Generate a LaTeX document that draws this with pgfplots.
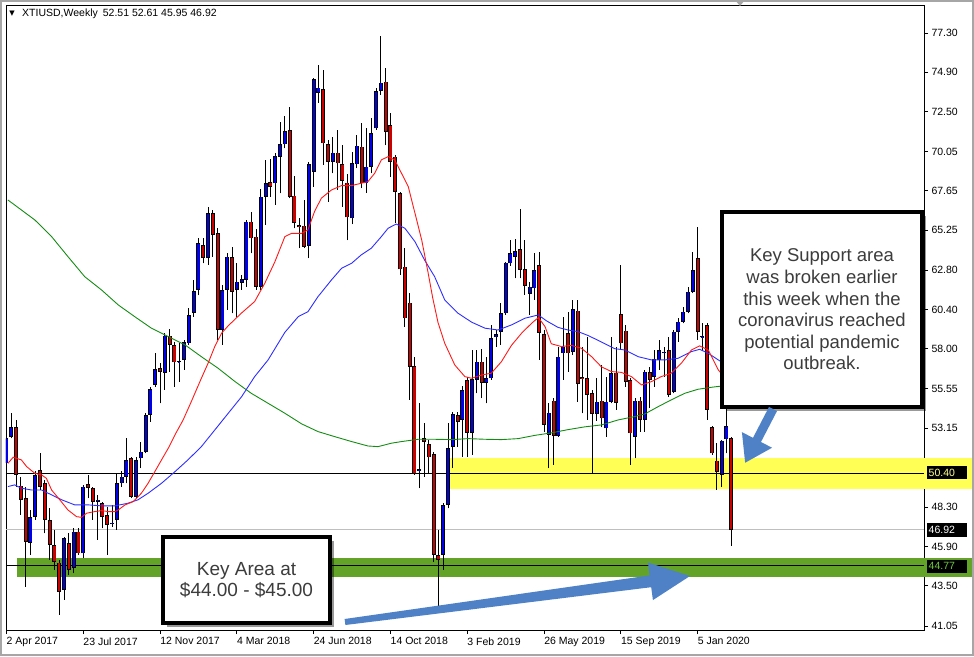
\documentclass[border=0pt]{standalone}
\usepackage{fontspec}
\setmainfont{Liberation Sans}
\newfontfamily\dejavu{DejaVu Sans}
\usepackage{pgfplots}
\pgfplotsset{compat=1.18}
\usepackage{pgfplotstable}
\usetikzlibrary{shadows,arrows.meta}

\definecolor{candleblue}{RGB}{0,0,235}
\definecolor{candlered}{RGB}{205,0,0}
\definecolor{mared}{RGB}{255,25,25}
\definecolor{mablue}{RGB}{45,45,255}
\definecolor{magreen}{RGB}{20,140,20}
\definecolor{bandyellow}{RGB}{255,255,85}
\definecolor{bandgreen}{RGB}{98,163,40}
\definecolor{arrowblue}{RGB}{79,129,199}
\definecolor{notegray}{RGB}{60,60,60}

% weekly candles, week 0 = 2 Apr 2017
\pgfplotstableread{
w o h l c
0 50.99 53.24 50.18 52.52
1 52.62 54.05 52.52 53.20
5 46.14 48.14 45.39 47.70
6 47.73 50.49 47.53 50.28
12 43.25 46.51 42.64 46.41
14 44.58 47.02 44.27 46.82
16 45.49 49.67 45.19 49.57
19 48.65 49.06 46.31 48.76
22 47.28 48.45 47.12 47.37
23 47.53 50.38 46.92 49.77
24 49.77 50.49 49.57 50.18
25 50.18 52.52 49.77 51.20
27 48.96 51.40 48.86 51.20
28 51.30 52.32 50.69 51.71
29 51.71 54.05 51.61 53.95
30 53.95 55.68 53.54 55.54
31 55.78 57.72 55.68 56.74
33 56.54 58.94 55.48 58.80
36 57.17 58.37 55.99 57.24
37 57.31 58.53 56.70 58.39
38 58.33 60.49 58.23 60.06
39 60.18 62.20 59.94 61.53
40 61.59 64.75 61.28 64.44
42 63.53 66.68 63.12 66.28
45 59.14 61.90 58.23 61.59
46 61.59 63.83 60.37 63.63
48 61.59 63.26 59.96 62.10
49 62.04 62.51 61.59 62.24
50 62.20 65.87 61.79 65.77
53 61.79 67.74 61.60 67.30
54 67.30 69.54 65.56 68.11
56 68.11 69.99 66.79 69.78
57 69.74 71.88 67.50 70.49
58 70.49 72.23 70.25 71.31
63 64.30 69.44 63.53 69.27
64 68.82 74.53 67.91 74.47
65 73.65 75.35 73.04 73.96
68 69.43 70.96 68.72 69.99
72 65.97 70.05 65.62 69.33
73 69.27 71.07 69.03 70.41
75 68.11 71.47 67.54 69.13
76 69.13 72.08 68.72 71.17
77 71.47 73.92 71.37 73.75
78 73.75 77.12 73.51 74.26
86 50.55 54.66 49.47 50.65
91 45.39 48.55 44.47 48.45
92 48.45 53.44 48.24 51.91
93 52.01 54.15 50.69 54.01
95 53.64 55.72 51.40 55.48
97 52.87 57.92 51.50 56.13
98 56.09 57.92 55.27 57.21
100 55.93 57.51 54.66 56.19
101 56.19 59.45 56.09 58.64
102 58.70 59.14 58.13 58.88
103 59.04 60.77 58.23 60.16
104 60.16 63.32 60.06 63.26
105 63.22 64.65 63.06 63.83
106 63.63 64.69 62.30 63.97
109 61.35 62.10 60.06 61.79
110 61.69 63.83 60.98 62.81
113 52.73 54.66 50.69 54.09
115 52.66 58.13 52.62 57.51
116 57.72 59.96 56.09 58.13
118 57.82 60.98 57.62 60.41
123 54.01 56.20 53.60 54.76
125 53.13 56.29 52.62 54.76
126 54.76 58.74 54.66 56.50
131 52.62 54.97 51.30 54.82
133 53.64 56.70 52.93 56.60
135 56.29 57.92 55.68 57.35
136 57.31 58.53 56.70 57.92
137 57.72 58.13 56.29 57.82
139 55.38 59.14 55.27 59.04
140 59.04 59.86 58.43 59.65
141 59.65 60.57 59.55 60.27
142 60.27 61.79 60.16 61.49
143 61.49 63.93 61.39 62.81
145 58.70 59.55 57.92 58.78
149 50.28 52.42 49.57 52.38
150 52.46 54.46 51.60 53.28
}\upcandles

\pgfplotstableread{
w o h l c
2 53.20 53.64 49.57 50.28
3 49.63 50.18 47.84 48.76
4 48.86 49.57 43.45 46.21
7 50.59 51.65 49.36 49.57
8 49.77 49.98 46.71 47.53
9 47.53 48.24 45.09 46.00
10 46.00 46.92 44.47 44.98
11 44.92 45.08 41.72 43.15
13 46.10 46.72 44.17 44.47
15 46.82 47.02 45.39 45.49
17 49.71 50.28 48.86 49.47
18 49.47 49.57 47.53 48.65
20 48.55 48.65 47.02 47.73
21 47.84 48.35 45.39 47.22
26 51.30 51.40 48.86 48.96
32 56.80 57.11 54.66 56.60
34 58.80 59.20 56.60 58.23
35 58.23 58.43 55.68 57.17
41 64.34 64.75 63.22 63.53
43 66.28 66.48 63.63 64.95
44 65.05 65.36 58.53 59.14
47 63.59 64.24 60.16 61.49
51 65.77 66.38 63.83 64.75
52 64.85 65.30 61.59 61.79
55 68.17 69.58 67.30 67.91
59 71.37 72.76 67.20 67.26
60 67.36 68.56 65.36 65.67
61 65.54 65.97 64.14 65.42
62 65.52 67.09 64.14 64.24
66 73.86 75.04 69.23 70.56
67 70.49 70.76 66.99 69.43
69 69.99 71.37 67.70 69.33
70 69.27 70.45 66.68 68.25
71 68.15 68.66 64.64 66.03
74 70.35 71.82 67.81 68.11
79 74.33 75.14 70.45 71.27
80 71.68 72.39 68.52 69.43
81 69.74 69.84 65.67 67.60
82 67.50 67.60 62.51 62.85
83 63.02 64.14 59.35 59.86
84 60.82 61.39 54.87 56.90
85 56.94 57.51 50.28 50.38
87 52.52 53.44 50.18 52.32
88 52.18 52.42 50.38 51.36
89 51.54 51.71 44.98 45.39
90 45.39 46.92 42.23 45.08
94 53.95 54.15 52.01 53.54
96 56.09 56.29 51.40 52.87
99 57.21 57.96 54.97 55.89
107 64.08 66.52 62.30 62.81
108 62.87 64.65 61.29 61.86
111 63.12 63.93 57.31 58.98
112 58.90 59.14 52.93 53.34
114 54.83 54.97 50.89 52.66
117 58.94 60.27 56.60 57.72
119 60.33 60.98 54.76 55.84
120 56.25 58.13 54.05 56.13
121 56.19 58.74 53.64 55.17
122 55.27 55.48 50.38 54.01
124 54.82 57.00 53.20 53.74
127 56.54 58.13 54.25 54.70
128 60.10 63.12 57.92 58.33
129 59.10 59.45 55.68 55.99
130 56.09 56.19 50.89 52.83
132 54.82 55.07 52.93 53.64
134 56.56 56.90 54.36 56.09
138 57.92 58.74 55.07 55.17
144 63.53 65.46 58.53 59.04
146 59.45 59.59 53.64 54.25
147 53.19 53.28 51.50 51.60
148 51.16 52.22 49.36 50.48
151 52.51 52.61 45.95 46.92
}\downcandles

% moving averages
\pgfplotstableread{
w p
0.3 50.99
1.4 51.36
3.1 51.20
4.2 50.79
5.9 50.38
7.3 50.28
8.3 50.08
9.4 49.36
11.1 48.76
12.8 48.14
14.6 47.73
15.6 47.69
16.7 47.94
18.4 48.04
19.8 48.10
21.2 48.04
22.6 48.04
23.3 48.14
24.7 48.45
26.4 48.65
28.1 49.16
29.5 49.77
30.9 50.48
32.3 51.20
33.7 51.91
35.1 52.73
36.8 53.64
38.5 54.76
40.6 56.19
42.0 57.11
43.4 58.13
44.8 58.94
46.2 59.40
48.9 60.16
51.7 60.88
53.8 61.99
55.9 63.30
58.0 64.85
59.4 65.05
61.5 65.05
62.8 65.26
64.2 66.40
65.6 67.20
67.7 67.70
69.8 67.97
71.9 67.97
73.9 68.11
75.3 68.21
76.7 68.72
78.1 69.54
79.5 69.74
80.9 69.54
82.3 68.72
83.7 67.91
85.1 66.28
86.5 64.65
87.8 62.70
88.8 61.10
89.9 59.60
91.3 58.33
93.4 57.00
95.5 56.29
96.9 56.19
99.0 56.39
101.0 56.50
103.1 57.20
105.2 58.20
107.3 58.94
109.4 59.55
110.8 59.90
112.2 59.35
113.5 58.30
115.6 58.13
117.7 58.20
119.8 58.02
121.9 57.51
123.9 56.90
126.0 56.60
128.1 56.55
130.2 56.29
132.3 55.78
134.4 55.99
136.4 56.29
138.5 56.50
140.6 57.11
142.7 57.92
144.4 58.17
146.2 57.92
148.3 56.70
150.0 56.10
}\redma

\pgfplotstableread{
w p
0.3 49.57
1.7 49.67
3.1 49.47
5.2 49.36
7.3 49.36
9.4 49.06
11.5 48.76
14.2 48.45
17.0 48.45
19.8 48.39
22.6 48.39
25.3 48.55
27.4 48.76
29.5 49.16
32.3 49.77
35.1 50.48
37.8 51.20
40.6 52.01
43.4 53.03
46.2 54.05
49.0 55.07
51.7 56.29
54.5 57.31
58.0 59.00
60.8 59.96
62.8 60.26
64.9 61.18
67.7 62.20
69.8 62.91
71.9 63.22
73.9 63.73
76.0 64.14
78.1 64.85
79.5 65.36
81.2 65.62
83.0 65.36
85.1 64.54
87.1 63.42
89.2 62.40
91.3 60.98
94.1 60.16
96.9 59.62
99.7 59.25
102.4 59.14
105.2 59.45
108.0 59.86
110.8 60.06
112.5 59.70
114.9 59.30
117.0 59.14
119.1 59.04
121.2 58.80
124.0 58.40
126.7 58.00
128.8 57.92
131.6 57.51
134.4 57.31
137.1 57.31
139.9 57.41
142.7 57.82
144.4 57.96
146.2 57.72
148.3 57.31
150.0 57.00
}\bluema

\pgfplotstableread{
w p
0.3 67.09
3.1 66.48
5.9 65.87
9.4 64.85
12.8 63.63
16.3 62.40
19.8 61.59
23.3 60.67
26.7 59.96
30.2 59.25
33.7 58.74
37.2 58.23
40.6 57.51
44.1 56.80
47.6 55.99
51.0 55.27
54.5 54.66
58.0 54.05
61.5 53.40
64.9 52.93
68.4 52.62
71.9 52.32
75.3 52.05
77.4 52.01
80.2 52.22
82.3 52.32
85.8 52.46
89.2 52.46
92.7 52.44
96.2 52.50
99.7 52.46
103.1 52.44
106.6 52.50
110.1 52.70
113.5 52.85
117.0 53.05
120.5 53.22
124.0 53.34
127.4 53.64
130.9 53.85
133.0 54.01
135.8 54.46
138.5 54.87
141.3 55.27
144.1 55.52
146.9 55.64
150.0 55.75
}\greenma

\pgfplotsset{
  barsonly/.style={only marks, mark=*, mark size=0pt,
    mark options={draw=none, fill=none}, forget plot},
  wick/.style={barsonly,
    error bars/.cd, y dir=plus, y explicit, error mark=none,
    error bar style={black, line width=1pt}},
  bodyedge/.style={barsonly,
    error bars/.cd, y dir=plus, y explicit, error mark=none,
    error bar style={black, line width=4pt}},
  bodyfill/.style={barsonly,
    error bars/.cd, y dir=plus, y explicit, error mark=none,
    error bar style={color=#1, line width=2.2pt, shorten <=0.7pt, shorten >=0.7pt}},
}

\begin{document}
\begin{tikzpicture}
\useasboundingbox (-6pt,-26pt) rectangle (968pt,630pt);
\begin{axis}[
    scale only axis,
    width=918pt, height=625pt,
    xmin=-0.1, xmax=191.15,
    ymin=40.80, ymax=79.01,
    axis line style={black, line width=0.8pt},
    tick style={black, line width=0.8pt},
    major tick length=4pt,
    tick align=outside,
    xtick pos=bottom,
    ytick pos=right, yticklabel pos=right,
    xtick={0,16,32,48,64,80,96,112,128,144},
    xticklabels={2 Apr 2017, 23 Jul 2017, 12 Nov 2017, 4 Mar 2018, 24 Jun 2018,
                 14 Oct 2018, 3 Feb 2019, 26 May 2019, 15 Sep 2019, 5 Jan 2020},
    xticklabel style={anchor=north west, inner xsep=0pt, font=\fontsize{10.5}{12}\selectfont},
    ytick={41.05,43.50,45.90,48.30,53.15,55.55,58.00,60.40,62.80,65.25,67.65,70.05,72.50,74.90,77.30},
    extra y ticks={50.75}, extra y tick labels={},
    yticklabel style={font=\fontsize{10.5}{12}\selectfont,
      /pgf/number format/.cd, fixed, fixed zerofill, precision=2, assume math mode=true},
]

% key zones and horizontal lines
\fill[bandyellow] (axis cs:92.4,49.42) rectangle (axis cs:191.15,51.34);
\fill[bandgreen] (axis cs:2.2,44.04) rectangle (axis cs:191.15,45.21);
\draw[black!25, line width=0.8pt] (axis cs:-0.1,46.92) -- (axis cs:191.15,46.92);
\draw[black, line width=0.8pt] (axis cs:-0.1,50.40) -- (axis cs:191.15,50.40);
\draw[black, line width=0.8pt] (axis cs:-0.1,44.77) -- (axis cs:191.15,44.77);

% candles: wicks, then body outline, then body colour
\addplot[wick] table[x=w, y=l, y error plus expr=\thisrow{h}-\thisrow{l}] {\upcandles};
\addplot[wick] table[x=w, y=l, y error plus expr=\thisrow{h}-\thisrow{l}] {\downcandles};
\addplot[bodyedge] table[x=w, y=o, y error plus expr=\thisrow{c}-\thisrow{o}] {\upcandles};
\addplot[bodyedge] table[x=w, y=c, y error plus expr=\thisrow{o}-\thisrow{c}] {\downcandles};
\addplot[bodyfill=candleblue] table[x=w, y=o, y error plus expr=\thisrow{c}-\thisrow{o}] {\upcandles};
\addplot[bodyfill=candlered] table[x=w, y=c, y error plus expr=\thisrow{o}-\thisrow{c}] {\downcandles};

% moving averages
\addplot[magreen, line width=0.9pt] table[x=w, y=p] {\greenma};
\addplot[mablue, line width=0.9pt] table[x=w, y=p] {\bluema};
\addplot[mared, line width=0.9pt] table[x=w, y=p] {\redma};
\end{axis}

% zones continue under the price scale
\fill[bandyellow] (918pt,140.8pt) rectangle (968pt,172.3pt);
\fill[bandgreen] (918pt,53.0pt) rectangle (968pt,72.1pt);

% price labels
\fill[black] (921pt,150.5pt) rectangle (961pt,163.5pt);
\node[anchor=west, inner sep=0pt, text={rgb,255:red,255;green,255;blue,150}, font=\fontsize{10.5}{12}\selectfont] at (922.5pt,157pt) {50.40};
\fill[black] (921pt,93.5pt) rectangle (961pt,106.5pt);
\node[anchor=west, inner sep=0pt, text=white, font=\fontsize{10.5}{12}\selectfont] at (922.5pt,100pt) {46.92};
\fill[black] (921pt,57.5pt) rectangle (961pt,70.5pt);
\node[anchor=west, inner sep=0pt, text={rgb,255:red,110;green,200;blue,60}, font=\fontsize{10.5}{12}\selectfont] at (922.5pt,64pt) {44.77};

% title
\node[font=\dejavu\fontsize{7}{8}\selectfont, inner sep=0pt] at (6pt,616.5pt) {▼};
\node[anchor=west, inner sep=0pt, font=\fontsize{10.5}{12}\selectfont] at (16pt,616pt) {XTIUSD,Weekly\hspace{5pt}52.51 52.61 45.95 46.92};
\fill[black!35] (729pt,630pt) -- (739pt,630pt) -- (734pt,624pt) -- cycle;

% annotation boxes
\path[fill=white, draw=black, line width=3.5pt,
      drop shadow={shadow xshift=4pt, shadow yshift=-4pt, opacity=0.4, fill=black}]
  (716pt,223pt) rectangle (916pt,418pt);
\node[align=center, text=notegray, font=\fontsize{18.5}{21.6}\selectfont] at (816pt,320.5pt)
  {Key Support area\\was broken earlier\\this week when the\\coronavirus reached\\potential pandemic\\outbreak.};

\path[fill=white, draw=black, line width=3.5pt,
      drop shadow={shadow xshift=4pt, shadow yshift=-4pt, opacity=0.4, fill=black}]
  (157pt,7pt) rectangle (324pt,93pt);
\node[align=center, text=notegray, font=\fontsize{19}{21}\selectfont] at (240.5pt,50pt)
  {Key Area at\\\$44.00 - \$45.00};

% arrows
\draw[arrowblue, line width=9pt, -{Triangle[length=26pt, width=32pt]}] (767pt,221pt) -- (739pt,167pt);
\fill[arrowblue] (338.6pt,11.0pt) -- (643.6pt,54.6pt) -- (641.9pt,67.5pt) -- (684pt,54pt)
  -- (646.9pt,29.9pt) -- (645.2pt,42.8pt) -- (339.4pt,5.0pt) -- cycle;

% window frame
\draw[black!35, line width=2pt] (-5pt,-25pt) rectangle (967pt,629pt);
\end{tikzpicture}
\end{document}
